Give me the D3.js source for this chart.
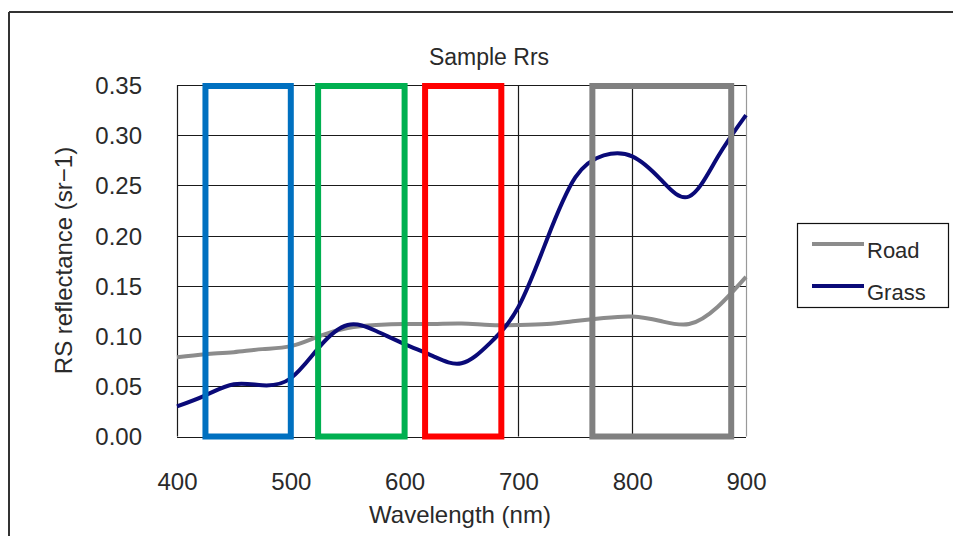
<!DOCTYPE html>
<html>
<head>
<meta charset="utf-8">
<script src="https://cdn.jsdelivr.net/npm/d3@7"></script>
<style>
  body { margin: 0; background: #fff; }
  text { font-family: "Liberation Sans", Arial, sans-serif; fill: #2a2a2a; }
</style>
</head>
<body>
<svg width="953" height="536"></svg>
<script>
// data
const wavelength = [400, 425, 450, 475, 500, 525, 550, 575, 600, 625, 650, 675, 700, 725, 750, 775, 800, 825, 850, 875, 900];
const road  = [0.079, 0.082, 0.084, 0.087, 0.090, 0.100, 0.108, 0.111, 0.112, 0.112, 0.1125, 0.111, 0.111, 0.112, 0.115, 0.118, 0.1195, 0.115, 0.112, 0.129, 0.159];
const grass = [0.030, 0.041, 0.052, 0.051, 0.058, 0.089, 0.111, 0.105, 0.092, 0.080, 0.073, 0.093, 0.129, 0.196, 0.258, 0.280, 0.279, 0.256, 0.239, 0.278, 0.320];
const seriesNames = ["Road", "Grass"];
const seriesColors = ["#8c8c8c", "#0a0a78"];
const xTicks = [400, 500, 600, 700, 800, 900];
const yTicks = [0, 0.05, 0.10, 0.15, 0.20, 0.25, 0.30, 0.35];
// band boxes drawn on top (start nm, end nm)
const bandStart = [425, 524, 618, 765];
const bandEnd   = [500, 600, 685, 887];
const bandColors = ["#0070c0", "#00b050", "#ff0000", "#808080"];

const svg = d3.select("svg");
const margin = { top: 85, right: 207, bottom: 100, left: 177 };
const width = 953 - margin.left - margin.right;
const height = 536 - margin.top - margin.bottom;

const x = d3.scaleLinear().domain([400, 900]).range([margin.left, margin.left + width]);
const y = d3.scaleLinear().domain([0, 0.35]).range([margin.top + height + 0.5, margin.top]);

// outer frame (only top and left edges are visible)
svg.append("line").attr("x1", 9).attr("x2", 953).attr("y1", 12).attr("y2", 12)
  .attr("stroke", "#333").attr("stroke-width", 2);
svg.append("line").attr("x1", 9).attr("x2", 9).attr("y1", 12).attr("y2", 536)
  .attr("stroke", "#333").attr("stroke-width", 2);

// grid
svg.append("g")
  .selectAll("line")
  .data(yTicks)
  .join("line")
  .attr("x1", x(400)).attr("x2", x(900))
  .attr("y1", function(d) { return Math.round(y(d)) + 0.5; })
  .attr("y2", function(d) { return Math.round(y(d)) + 0.5; })
  .attr("stroke", "#1a1a1a").attr("stroke-width", 1.2);

svg.append("g")
  .selectAll("line")
  .data(xTicks)
  .join("line")
  .attr("x1", function(d) { return Math.round(x(d)) + 0.5; })
  .attr("x2", function(d) { return Math.round(x(d)) + 0.5; })
  .attr("y1", y(0.35)).attr("y2", y(0))
  .attr("stroke", function(d) { return d === 900 ? "#999" : "#1a1a1a"; })
  .attr("stroke-width", 1.2);

// axes (labels only, the grid does the lines)
const xAxis = svg.append("g")
  .attr("transform", "translate(0," + y(0) + ")")
  .call(d3.axisBottom(x).tickValues(xTicks).tickSize(0).tickPadding(36).tickFormat(d3.format("d")));
xAxis.select(".domain").remove();
xAxis.selectAll("text").style("font-size", "24px").attr("fill", "#2a2a2a");

const yAxis = svg.append("g")
  .attr("transform", "translate(" + x(400) + ",0)")
  .call(d3.axisLeft(y).tickValues(yTicks).tickSize(0).tickPadding(35).tickFormat(d3.format(".2f")));
yAxis.select(".domain").remove();
yAxis.selectAll("text").style("font-size", "24px").attr("fill", "#2a2a2a").attr("dy", "0.35em");

// series
const line = d3.line()
  .x(function(d) { return x(d[0]); })
  .y(function(d) { return y(d[1]); })
  .curve(d3.curveNatural);

const allSeries = [road, grass];
allSeries.forEach(function(vals, i) {
  svg.append("path")
    .datum(wavelength.map(function(w, j) { return [w, vals[j]]; }))
    .attr("d", line)
    .attr("fill", "none")
    .attr("stroke", seriesColors[i])
    .attr("stroke-width", 4);
});

// band boxes
svg.append("g")
  .selectAll("rect")
  .data(bandStart)
  .join("rect")
  .attr("x", function(d) { return x(d); })
  .attr("y", y(0.349))
  .attr("width", function(d, i) { return x(bandEnd[i]) - x(d); })
  .attr("height", y(0) - y(0.349))
  .attr("fill", "none")
  .attr("stroke", function(d, i) { return bandColors[i]; })
  .attr("stroke-width", 6);

// titles
svg.append("text").attr("x", 489).attr("y", 65).attr("text-anchor", "middle")
  .style("font-size", "23px").text("Sample Rrs");
svg.append("text").attr("x", 460).attr("y", 523).attr("text-anchor", "middle")
  .style("font-size", "24px").text("Wavelength (nm)");
svg.append("text")
  .attr("transform", "translate(72," + (margin.top + height / 2) + ") rotate(-90)")
  .attr("text-anchor", "middle")
  .style("font-size", "24px").text("RS reflectance (sr\u22121)");

// legend
const legend = svg.append("g");
legend.append("rect").attr("x", 797.5).attr("y", 223.5).attr("width", 151).attr("height", 84)
  .attr("fill", "#fff").attr("stroke", "#111").attr("stroke-width", 1.2);
seriesNames.forEach(function(name, i) {
  const ly = 244 + i * 42;
  legend.append("line").attr("x1", 812).attr("x2", 864).attr("y1", ly).attr("y2", ly)
    .attr("stroke", seriesColors[i]).attr("stroke-width", 4);
  legend.append("text").attr("x", 867).attr("y", ly + 14)
    .style("font-size", "22px").text(name);
});
</script>
</body>
</html>
